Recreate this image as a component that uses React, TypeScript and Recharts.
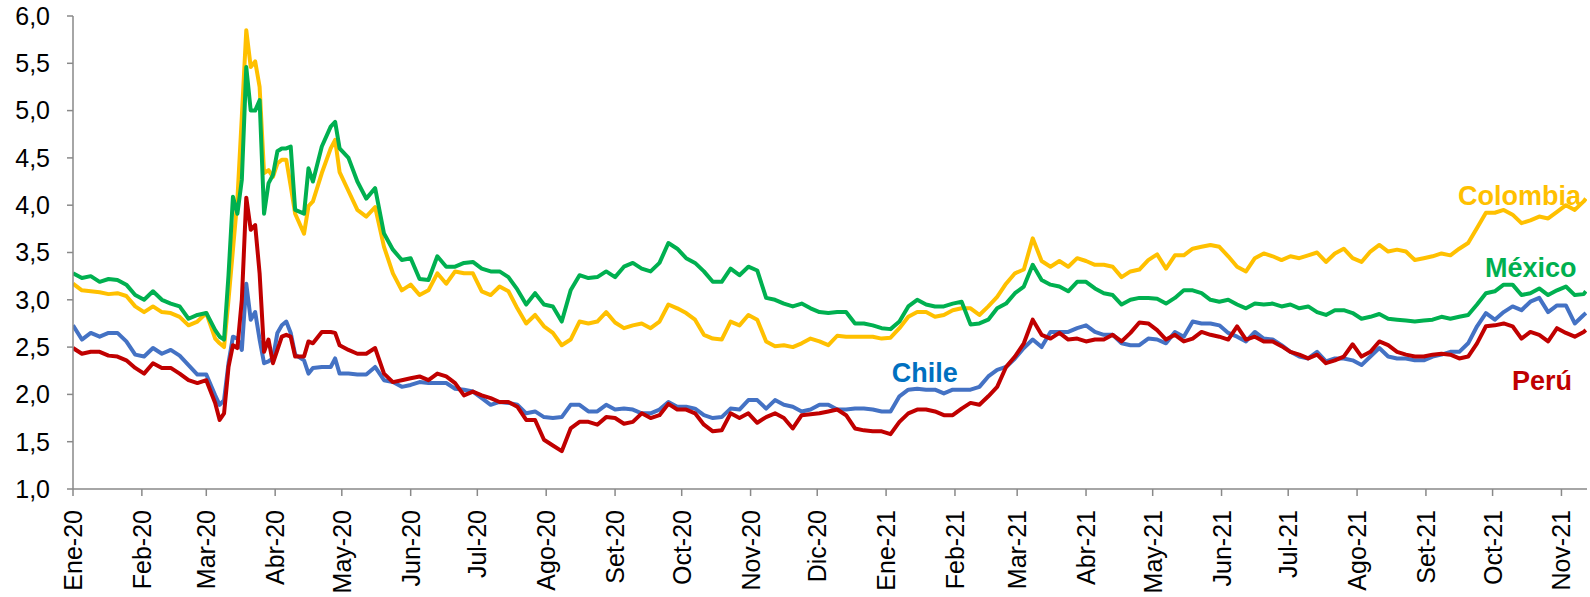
import React from "react";
import { LineChart, Line, XAxis, YAxis, ReferenceDot } from "recharts";

// días desde el 1-ene-2020
const days = [
  0, 4, 8, 12, 16, 20, 24, 28, 32, 36, 40, 44, 48, 52, 56, 60,
  64, 66, 68, 70, 72, 74, 76, 78, 80, 82, 84, 86, 88, 90, 92, 94, 96, 98, 100,
  104, 106, 108, 112, 116, 118, 120,
  124, 128, 132, 136, 140, 144, 148, 152, 156, 160, 164, 168, 172, 176, 180, 184, 188, 192, 196, 200, 204, 208, 212, 216, 220, 224, 228, 232, 236, 240, 244,
  248, 252, 256, 260, 264, 268, 272, 276, 280, 284, 288, 292, 296, 300, 304, 308, 312, 316, 320, 324, 328, 332, 336, 340, 344, 348, 352, 356, 360, 364, 368,
  372, 376, 380, 384, 388, 392, 396, 400, 404, 408, 412, 416, 420, 424, 428, 432, 436, 440, 444, 448, 452, 456, 460, 464, 468, 472, 476, 480, 484, 488,
  492, 496, 500, 504, 508, 512, 516, 520, 524, 528, 532, 536, 540, 544, 548, 552, 556, 560, 564, 568, 572, 576, 580, 584, 588, 592, 596, 600, 604, 608,
  612, 616, 620, 624, 628, 632, 636, 640, 644, 648, 652, 656, 660, 664, 668, 672, 676, 680, 681,
];

const colombia = [
  3.17, 3.10, 3.09, 3.08, 3.06, 3.07, 3.04, 2.93, 2.87, 2.93, 2.87, 2.86, 2.82, 2.73, 2.77, 2.86,
  2.59, 2.54, 2.50, 3.00, 3.53, 4.06, 4.94, 5.85, 5.46, 5.52, 5.25, 4.34, 4.37, 4.30, 4.44, 4.48, 4.48, 4.20, 3.91,
  3.70, 3.99, 4.04, 4.34, 4.60, 4.69, 4.35,
  4.15, 3.95, 3.88, 3.98, 3.56, 3.28, 3.10, 3.16, 3.05, 3.10, 3.28, 3.17, 3.30, 3.28, 3.28, 3.09, 3.05, 3.14, 3.09, 2.91, 2.75, 2.84, 2.72, 2.65, 2.52, 2.58, 2.77, 2.75, 2.77, 2.87, 2.76,
  2.70, 2.73, 2.75, 2.70, 2.77, 2.95, 2.91, 2.86, 2.79, 2.63, 2.59, 2.58, 2.77, 2.73, 2.84, 2.79, 2.56, 2.51, 2.52, 2.50, 2.54, 2.59, 2.56, 2.52, 2.62, 2.61, 2.61, 2.61, 2.61, 2.59, 2.60,
  2.70, 2.82, 2.87, 2.87, 2.82, 2.84, 2.89, 2.91, 2.91, 2.84, 2.93, 3.03, 3.17, 3.28, 3.32, 3.65, 3.41, 3.35, 3.41, 3.35, 3.44, 3.41, 3.37, 3.37, 3.35, 3.24, 3.30, 3.32, 3.42, 3.48,
  3.33, 3.47, 3.47, 3.54, 3.56, 3.58, 3.56, 3.46, 3.35, 3.30, 3.44, 3.49, 3.46, 3.42, 3.46, 3.44, 3.47, 3.50, 3.40, 3.49, 3.54, 3.44, 3.40, 3.51, 3.58, 3.51, 3.53, 3.51, 3.42, 3.44,
  3.46, 3.49, 3.47, 3.54, 3.60, 3.76, 3.92, 3.92, 3.95, 3.90, 3.81, 3.84, 3.88, 3.86, 3.93, 4.00, 3.95, 4.04, 4.07,
];

const mexico = [
  3.28, 3.23, 3.25, 3.19, 3.22, 3.21, 3.16, 3.05, 3.00, 3.09, 3.00, 2.96, 2.93, 2.80, 2.84, 2.86,
  2.68, 2.61, 2.58, 3.26, 4.09, 3.91, 4.27, 5.46, 5.00, 5.00, 5.11, 3.91, 4.23, 4.32, 4.57, 4.60, 4.60, 4.62, 3.95,
  3.91, 4.39, 4.25, 4.62, 4.83, 4.88, 4.60,
  4.50, 4.25, 4.07, 4.18, 3.70, 3.53, 3.42, 3.44, 3.22, 3.21, 3.46, 3.35, 3.35, 3.39, 3.40, 3.33, 3.30, 3.30, 3.24, 3.11, 2.95, 3.07, 2.95, 2.93, 2.77, 3.10, 3.26, 3.23, 3.24, 3.30, 3.24,
  3.35, 3.39, 3.33, 3.30, 3.39, 3.60, 3.54, 3.44, 3.39, 3.30, 3.19, 3.19, 3.33, 3.26, 3.35, 3.31, 3.02, 3.00, 2.96, 2.93, 2.96, 2.91, 2.87, 2.86, 2.87, 2.87, 2.75, 2.75, 2.73, 2.70, 2.69,
  2.77, 2.93, 3.00, 2.95, 2.93, 2.93, 2.96, 2.98, 2.74, 2.75, 2.79, 2.91, 2.96, 3.07, 3.14, 3.37, 3.21, 3.16, 3.14, 3.09, 3.19, 3.19, 3.12, 3.07, 3.05, 2.95, 3.00, 3.02, 3.02, 3.01,
  2.96, 3.02, 3.10, 3.10, 3.07, 3.00, 2.98, 3.00, 2.95, 2.91, 2.96, 2.95, 2.96, 2.93, 2.95, 2.91, 2.93, 2.87, 2.84, 2.89, 2.89, 2.86, 2.80, 2.82, 2.85, 2.80, 2.79, 2.78, 2.77, 2.78,
  2.79, 2.82, 2.80, 2.82, 2.84, 2.95, 3.07, 3.09, 3.16, 3.16, 3.05, 3.07, 3.12, 3.05, 3.10, 3.14, 3.05, 3.06, 3.09,
];

const chile = [
  2.73, 2.58, 2.65, 2.61, 2.65, 2.65, 2.56, 2.42, 2.40, 2.49, 2.43, 2.47, 2.41, 2.31, 2.21, 2.21,
  1.99, 1.89, 1.94, 2.33, 2.61, 2.59, 2.47, 3.17, 2.79, 2.87, 2.58, 2.33, 2.35, 2.38, 2.65, 2.73, 2.77, 2.65, 2.42,
  2.36, 2.22, 2.28, 2.29, 2.29, 2.38, 2.22,
  2.22, 2.21, 2.21, 2.29, 2.15, 2.13, 2.08, 2.10, 2.13, 2.12, 2.12, 2.12, 2.06, 2.05, 2.03, 1.96, 1.89, 1.92, 1.91, 1.89, 1.80, 1.82, 1.76, 1.75, 1.76, 1.89, 1.89, 1.82, 1.82, 1.89, 1.84,
  1.85, 1.84, 1.80, 1.80, 1.84, 1.92, 1.87, 1.87, 1.85, 1.78, 1.75, 1.76, 1.85, 1.84, 1.94, 1.94, 1.85, 1.94, 1.89, 1.87, 1.82, 1.84, 1.89, 1.89, 1.84, 1.84, 1.85, 1.85, 1.84, 1.82, 1.82,
  1.98, 2.05, 2.06, 2.05, 2.05, 2.01, 2.05, 2.05, 2.05, 2.08, 2.19, 2.26, 2.29, 2.38, 2.49, 2.58, 2.50, 2.66, 2.66, 2.66, 2.70, 2.73, 2.66, 2.63, 2.63, 2.54, 2.52, 2.52, 2.59, 2.58,
  2.54, 2.66, 2.61, 2.77, 2.75, 2.75, 2.73, 2.65, 2.61, 2.56, 2.66, 2.59, 2.58, 2.52, 2.45, 2.40, 2.38, 2.45, 2.35, 2.38, 2.38, 2.36, 2.31, 2.40, 2.49, 2.40, 2.38, 2.38, 2.36, 2.36,
  2.40, 2.42, 2.45, 2.45, 2.54, 2.72, 2.86, 2.79, 2.87, 2.93, 2.89, 2.98, 3.02, 2.87, 2.94, 2.94, 2.75, 2.84, 2.86,
];

const peru = [
  2.49, 2.43, 2.45, 2.45, 2.41, 2.40, 2.36, 2.28, 2.22, 2.33, 2.28, 2.28, 2.22, 2.15, 2.12, 2.15,
  1.91, 1.73, 1.80, 2.29, 2.52, 2.49, 3.00, 4.08, 3.74, 3.79, 3.28, 2.45, 2.58, 2.33, 2.47, 2.61, 2.63, 2.61, 2.40,
  2.40, 2.56, 2.54, 2.66, 2.66, 2.65, 2.52,
  2.47, 2.43, 2.43, 2.49, 2.22, 2.13, 2.15, 2.17, 2.19, 2.15, 2.22, 2.19, 2.12, 1.99, 2.03, 1.99, 1.96, 1.92, 1.92, 1.87, 1.73, 1.73, 1.52, 1.46, 1.40, 1.64, 1.71, 1.71, 1.68, 1.76, 1.75,
  1.69, 1.71, 1.80, 1.75, 1.78, 1.90, 1.84, 1.84, 1.80, 1.68, 1.61, 1.62, 1.80, 1.75, 1.80, 1.70, 1.76, 1.80, 1.75, 1.64, 1.78, 1.79, 1.80, 1.82, 1.84, 1.78, 1.64, 1.62, 1.61, 1.61, 1.58,
  1.71, 1.80, 1.84, 1.84, 1.82, 1.78, 1.78, 1.85, 1.91, 1.89, 1.98, 2.08, 2.29, 2.40, 2.54, 2.79, 2.63, 2.59, 2.65, 2.58, 2.59, 2.56, 2.58, 2.58, 2.63, 2.56, 2.65, 2.76, 2.75, 2.68,
  2.58, 2.63, 2.56, 2.59, 2.66, 2.63, 2.61, 2.58, 2.72, 2.58, 2.61, 2.56, 2.56, 2.51, 2.45, 2.42, 2.38, 2.42, 2.33, 2.36, 2.40, 2.53, 2.40, 2.45, 2.56, 2.52, 2.45, 2.42, 2.40, 2.40,
  2.42, 2.43, 2.42, 2.38, 2.40, 2.54, 2.72, 2.73, 2.75, 2.72, 2.59, 2.66, 2.63, 2.56, 2.70, 2.65, 2.61, 2.66, 2.68,
];

// inicio de cada mes (días desde 1-ene-2020)
const monthDays = [0, 31, 60, 91, 121, 152, 182, 213, 244, 274, 305, 335, 366, 397, 425, 456, 486, 517, 547, 578, 609, 639, 670];
const monthLabels = [
  "Ene-20", "Feb-20", "Mar-20", "Abr-20", "May-20", "Jun-20", "Jul-20", "Ago-20", "Set-20", "Oct-20", "Nov-20", "Dic-20",
  "Ene-21", "Feb-21", "Mar-21", "Abr-21", "May-21", "Jun-21", "Jul-21", "Ago-21", "Set-21", "Oct-21", "Nov-21",
];
const yTicks = [1, 1.5, 2, 2.5, 3, 3.5, 4, 4.5, 5, 5.5, 6];

const series = [
  { key: "chile", name: "Chile", color: "#4472C4" },
  { key: "colombia", name: "Colombia", color: "#FFC000" },
  { key: "mexico", name: "México", color: "#00B050" },
  { key: "peru", name: "Perú", color: "#C00000" },
];

// etiquetas dentro del gráfico (día, valor de la línea base del texto)
const tags = [
  { name: "Colombia", day: 623.4, value: 4.0, color: "#FFC000" },
  { name: "México", day: 635.6, value: 3.24, color: "#00B050" },
  { name: "Perú", day: 647.7, value: 2.05, color: "#C00000" },
  { name: "Chile", day: 368.6, value: 2.13, color: "#0070C0" },
];

const rows = days.map((d, i) => ({
  day: d,
  colombia: colombia[i],
  mexico: mexico[i],
  chile: chile[i],
  peru: peru[i],
}));

const AXIS = "#898989";

function MonthTick({ x, y, payload }: any) {
  const idx = monthDays.indexOf(payload.value);
  return (
    <text
      transform={`translate(${x},${y}) rotate(-90)`}
      textAnchor="end"
      dy="0.36em"
      fontSize={25}
      fill="#000"
    >
      {monthLabels[idx]}
    </text>
  );
}

export default function App() {
  return (
    <div
      style={{
        position: "absolute",
        left: 0,
        top: 0,
        width: 1590,
        height: 597,
        background: "#fff",
        fontFamily: "'Liberation Sans', Arial, sans-serif",
      }}
    >
      <LineChart width={1590} height={597} data={rows} margin={{ top: 16, right: 3, bottom: 0, left: 0 }}>
        <XAxis
          type="number"
          dataKey="day"
          domain={[0, 681.5]}
          ticks={monthDays}
          interval={0}
          allowDataOverflow
          height={108}
          tickSize={7}
          tickMargin={14}
          axisLine={{ stroke: AXIS, strokeWidth: 1.5 }}
          tickLine={{ stroke: AXIS, strokeWidth: 1.5 }}
          tick={<MonthTick />}
        />
        <YAxis
          type="number"
          domain={[1, 6]}
          ticks={yTicks}
          interval={0}
          width={73}
          tickSize={6}
          tickMargin={17}
          axisLine={{ stroke: AXIS, strokeWidth: 1.5 }}
          tickLine={{ stroke: AXIS, strokeWidth: 1.5 }}
          tick={{ fontSize: 25, fill: "#000" }}
          tickFormatter={(v: number) => v.toFixed(1).replace(".", ",")}
        />
        {series.map((s) => (
          <Line
            key={s.key}
            type="linear"
            dataKey={s.key}
            name={s.name}
            stroke={s.color}
            strokeWidth={4}
            strokeLinejoin="round"
            dot={false}
            activeDot={false}
            isAnimationActive={false}
          />
        ))}
        {tags.map((t) => (
          <ReferenceDot
            key={t.name}
            x={t.day}
            y={t.value}
            r={0}
            ifOverflow="visible"
            shape={(p: any) => (
              <text x={p.cx} y={p.cy} fill={t.color} fontSize={27} fontWeight="bold">
                {t.name}
              </text>
            )}
          />
        ))}
      </LineChart>
    </div>
  );
}
